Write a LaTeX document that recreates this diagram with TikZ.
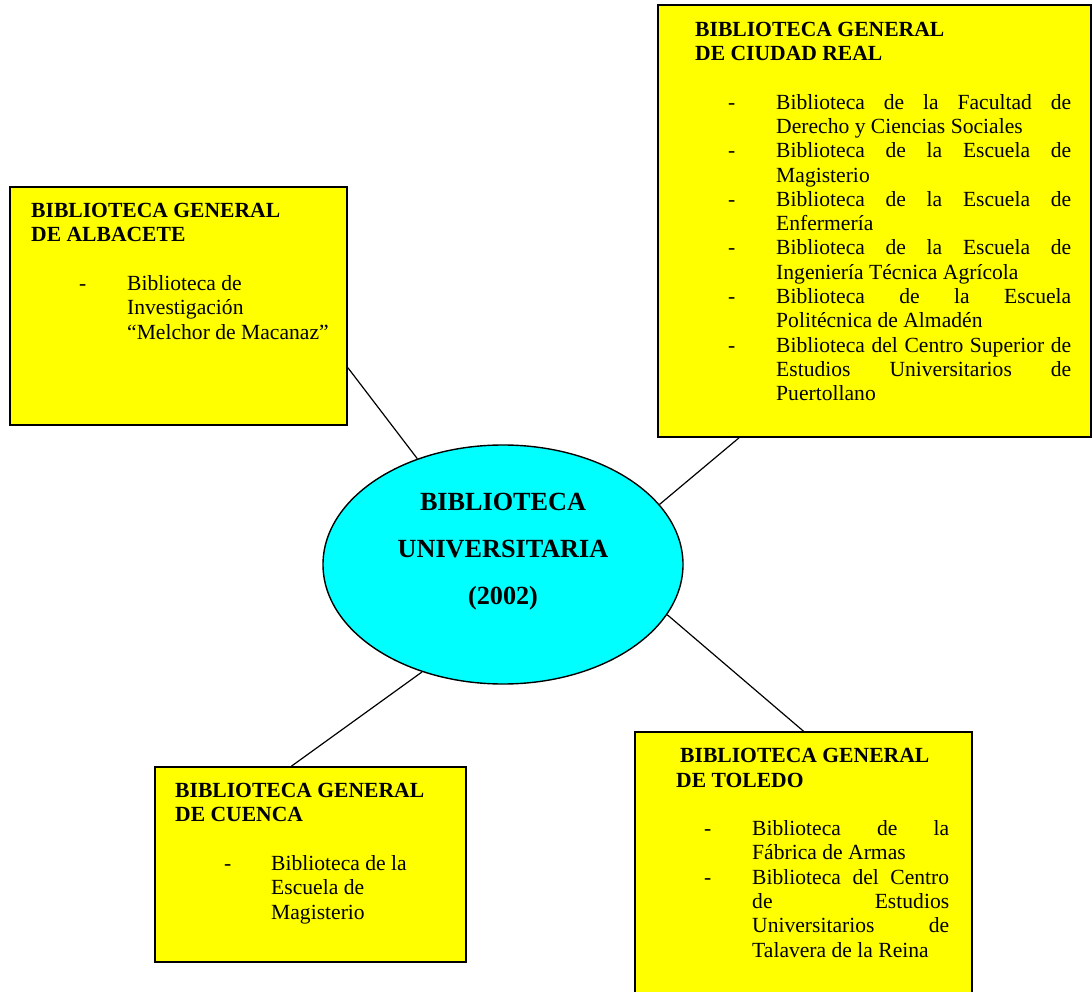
\documentclass[tikz,border=0pt]{standalone}
\usepackage{fontspec}
\setmainfont{Liberation Serif}
\usetikzlibrary{shapes.geometric}
\definecolor{boxyellow}{RGB}{255,255,0}
\definecolor{hubcyan}{RGB}{0,255,255}
\newlength{\libindent}
\newlength{\libhang}
\newcommand{\liblist}[2]{\setlength{\libindent}{#1}\setlength{\libhang}{#2}}
\newcommand{\libhead}[2]{\noindent\strut\textbf{#1}\\\textbf{#2}\par\vspace{\baselineskip}}
\newcommand{\libitem}[1]{\par\leftskip=\libindent\hangindent=\libhang\hangafter=1\noindent\makebox[\libhang][l]{-}#1}
\begin{document}
\begin{tikzpicture}[x=1pt,y=-1pt,
  libbox/.style={draw, fill=boxyellow, line width=1.6pt, inner sep=0pt},
  boxtext/.style={anchor=north west, inner sep=0pt, align=justify, font=\fontsize{21.6pt}{24.3pt}\selectfont},
  hub/.style={ellipse, draw, fill=hubcyan, line width=1.4pt, minimum width=360pt, minimum height=239pt, inner sep=0pt, text width=220pt, align=center, font=\fontsize{26.2pt}{47pt}\selectfont\bfseries},
  link/.style={line width=1.2pt}]
\useasboundingbox (0,0) rectangle (1092,992);
\clip (0,0) rectangle (1092,992);
% boxes
\node[libbox, minimum width=337pt, minimum height=238pt] (albacete) at (178.5,306) {};
\node[libbox, minimum width=433pt, minimum height=432pt] (ciudadreal) at (874.5,221) {};
\node[libbox, minimum width=337pt, minimum height=288pt] (toledo) at (803.5,876) {};
\node[libbox, minimum width=311pt, minimum height=195pt] (cuenca) at (310.5,864.5) {};
\node[hub] (biblio) at (503,564.5) {BIBLIOTECA\\UNIVERSITARIA\\(2002)\rule[-31pt]{0pt}{31pt}};
% texts
\node[boxtext, text width=300pt] (albtext) at (31,200.3) {\liblist{48pt}{48pt}%
  \libhead{BIBLIOTECA GENERAL}{DE ALBACETE}%
  \libitem{Biblioteca de\newline Investigación\newline “Melchor de Macanaz”}\par};
\node[boxtext, text width=376pt] (crtext) at (695,19) {\liblist{33pt}{48pt}%
  \libhead{BIBLIOTECA GENERAL}{DE CIUDAD REAL}%
  \libitem{Biblioteca de la Facultad de\linebreak Derecho y Ciencias Sociales}%
  \libitem{Biblioteca de la Escuela de\linebreak Magisterio}%
  \libitem{Biblioteca de la Escuela de\linebreak Enfermería}%
  \libitem{Biblioteca de la Escuela de\linebreak Ingeniería Técnica Agrícola}%
  \libitem{Biblioteca de la Escuela\linebreak Politécnica de Almadén}%
  \libitem{Biblioteca del Centro Superior de\linebreak Estudios Universitarios de\linebreak Puertollano}\par};
\node[boxtext, text width=273pt] (toltext) at (676,745.5) {\liblist{28pt}{48pt}%
  \libhead{\hspace*{4pt}BIBLIOTECA GENERAL}{DE TOLEDO}%
  \libitem{Biblioteca de la\linebreak Fábrica de Armas}%
  \libitem{Biblioteca del Centro\linebreak de Estudios\linebreak Universitarios de\linebreak Talavera de la Reina}\par};
\node[boxtext, text width=270pt] (cuetext) at (175,780.3) {\liblist{49pt}{47pt}%
  \libhead{BIBLIOTECA GENERAL}{DE CUENCA}%
  \libitem{Biblioteca de la\newline Escuela de\newline Magisterio}\par};
% connectors
\draw[link] (albacete.-20.2) -- (biblio.129.1);
\draw[link] (ciudadreal.-122.7) -- (biblio.21.7);
\draw[link] (toledo.north) -- (biblio.-17);
\draw[link] (cuenca.101.9) -- (biblio.-127.7);
\end{tikzpicture}
\end{document}
